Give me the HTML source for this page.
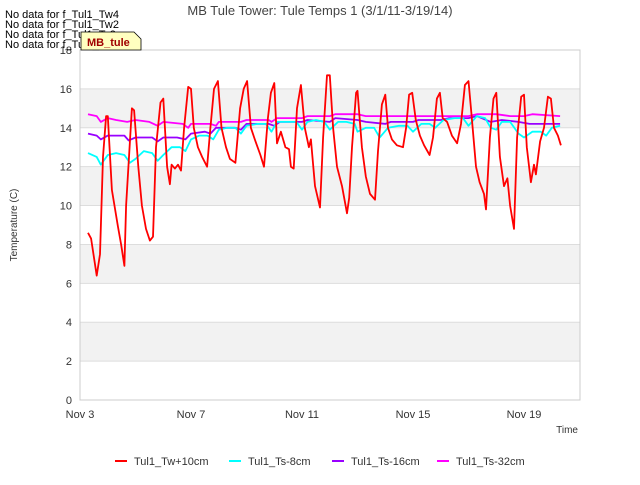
<!DOCTYPE html>
<html><head><meta charset="utf-8"><style>
body{margin:0;background:#fff;font-family:"Liberation Sans","DejaVu Sans",sans-serif;}
</style></head><body>
<svg id="c" width="640" height="480" xmlns="http://www.w3.org/2000/svg" font-family="Liberation Sans, DejaVu Sans, sans-serif">
<rect x="0" y="0" width="640" height="480" fill="#fff"/>
<g id="bands"></g>
<g id="grid"></g>
<rect x="80" y="50" width="500" height="350" fill="none" stroke="#ccc"/>
<g id="yt" font-size="11" fill="#333" text-anchor="end"></g>
<g id="xt" font-size="11" fill="#333" text-anchor="middle"></g>
<g id="series"></g>
<text x="320" y="15" font-size="13" fill="#444" text-anchor="middle">MB Tule Tower: Tule Temps 1 (3/1/11-3/19/14)</text>
<text x="17" y="225" font-size="10" fill="#333" text-anchor="middle" transform="rotate(-90 17 225)">Temperature (C)</text>
<text x="578" y="433" font-size="10" fill="#333" text-anchor="end">Time</text>
<g font-size="11" fill="#000">
<text x="5" y="18">No data for f_Tul1_Tw4</text>
<text x="5" y="28">No data for f_Tul1_Tw2</text>
<text x="5" y="38">No data for f_Tul1_Ts2</text>
<text x="5" y="48">No data for f_Tul1_Ts4</text>
</g>
<g>
<path d="M81 32 H134 L141 39 V50 H81 Z" fill="#ffffc0" stroke="#000" stroke-width="0.8"/>
<text x="87" y="46" font-size="11" font-weight="bold" fill="#a00000">MB_tule</text>
</g>
<g id="legend" font-size="11" fill="#333"></g>
</svg>
<script>
const xLabels=["Nov 3","Nov 7","Nov 11","Nov 15","Nov 19"];
const xLabelDays=[0,4,8,12,16];
const yTicks=[0,2,4,6,8,10,12,14,16,18];
const seriesNames=["Tul1_Tw+10cm","Tul1_Ts-8cm","Tul1_Ts-16cm","Tul1_Ts-32cm"];
const seriesColors=["#ff0000","#00ffff","#9900ff","#ff00ff"];
const twDays=[0.29,0.4,0.6,0.72,0.83,0.94,1.0,1.15,1.37,1.48,1.6,1.66,1.87,1.95,2.1,2.23,2.38,2.52,2.63,2.74,2.9,3.0,3.14,3.24,3.3,3.42,3.53,3.64,3.75,3.9,4.0,4.1,4.25,4.4,4.58,4.7,4.83,4.97,5.1,5.26,5.4,5.6,5.77,5.9,6.02,6.16,6.3,6.5,6.63,6.77,6.88,7.0,7.1,7.24,7.4,7.53,7.6,7.7,7.82,7.96,8.1,8.25,8.32,8.47,8.65,8.76,8.9,9.0,9.12,9.26,9.44,9.62,9.7,9.8,9.95,10.0,10.16,10.3,10.45,10.63,10.74,10.88,11.0,11.1,11.24,11.42,11.64,11.75,11.86,11.97,12.1,12.25,12.4,12.6,12.72,12.86,12.97,13.07,13.23,13.4,13.59,13.73,13.87,14.0,14.1,14.27,14.4,14.56,14.63,14.77,14.9,15.0,15.13,15.28,15.4,15.5,15.64,15.75,15.9,16.0,16.1,16.25,16.36,16.43,16.58,16.72,16.86,16.97,17.08,17.22,17.33];
const twVals=[8.6,8.3,6.4,7.5,12.5,14.6,14.6,10.8,8.9,8.0,6.9,10,15,14.9,12,10,8.8,8.2,8.4,13,15.3,15.5,12,11.1,12.1,11.9,12.1,11.8,14,16.1,16,14,13,12.5,12,14,16,16.4,14,13,12.4,12.2,15,16,16.4,14,13.4,12.6,12.0,14.5,15.8,16.3,13.2,13.8,13,12.9,12,11.9,15,16.2,14,13,13.4,11,9.9,13.5,16.7,16.7,14,12,11,9.6,10.4,13,15.8,15.9,13,11.5,10.6,10.3,12.8,15.2,15.7,14,13.4,13.1,13,14,15.7,15.8,14.4,13.6,13.1,12.6,13.5,15.5,15.8,14.5,14.3,13.6,13.2,14.2,16.2,16.4,14.8,12,11.2,10.6,9.8,13.5,15.5,15.8,12.5,11,11.4,10,8.8,13.5,15.6,15.7,13,11.2,12.1,11.6,13.3,14,15.6,15.5,14,13.6,13.1];
const ts8Days=[0.29,0.6,0.75,1.0,1.3,1.6,1.8,2.0,2.3,2.6,2.8,3.0,3.3,3.6,3.8,4.0,4.3,4.6,4.8,5.0,5.3,5.6,5.8,6.0,6.4,6.7,6.9,7.1,7.5,7.8,8.0,8.2,8.5,8.8,9.0,9.3,9.6,9.9,10.0,10.3,10.6,10.8,11.1,11.5,11.8,12.0,12.3,12.6,12.8,13.1,13.5,13.8,14.0,14.3,14.6,14.8,15.0,15.2,15.5,15.8,16.0,16.3,16.6,16.8,17.0,17.3];
const ts8Vals=[12.7,12.5,12.1,12.6,12.7,12.6,12.2,12.4,12.8,12.7,12.3,12.6,13.0,13.0,12.8,13.4,13.6,13.6,13.4,13.9,14.0,14.0,13.7,14.1,14.2,14.2,13.8,14.3,14.3,14.3,13.9,14.3,14.4,14.3,13.9,14.3,14.3,14.2,13.8,14.0,14.0,13.5,14.0,14.1,14.1,13.8,14.2,14.2,14.0,14.4,14.5,14.5,14.1,14.6,14.5,14.0,13.9,14.3,14.3,13.7,13.5,13.8,13.8,13.6,14.0,14.1];
const ts16Days=[0.29,0.6,0.75,1.0,1.6,1.75,2.0,2.6,2.8,3.0,3.5,3.8,4.0,4.5,4.7,4.9,5.6,5.8,6.0,6.8,7.0,7.2,8.0,8.2,9.0,9.2,10.0,10.3,11.0,11.2,12.0,12.2,13.0,13.3,14.0,14.3,14.8,15.2,15.8,16.2,16.8,17.3];
const ts16Vals=[13.7,13.6,13.4,13.6,13.6,13.35,13.5,13.5,13.3,13.5,13.5,13.4,13.7,13.8,13.7,14.0,14.0,13.9,14.2,14.2,14.1,14.3,14.3,14.4,14.3,14.5,14.4,14.3,14.2,14.3,14.3,14.4,14.4,14.5,14.5,14.6,14.3,14.4,14.3,14.2,14.2,14.2];
const ts32Days=[0.29,0.6,0.75,1.0,1.3,1.7,2.0,2.5,2.8,3.0,3.7,3.9,4.0,4.7,4.9,5.0,5.8,6.0,6.8,6.9,7.1,8.0,8.2,9.0,9.2,10.0,10.3,11.0,12.0,13.0,14.0,14.3,15.0,15.5,16.0,16.3,17.3];
const ts32Vals=[14.7,14.6,14.3,14.5,14.4,14.3,14.4,14.3,14.1,14.3,14.2,14.0,14.2,14.2,14.1,14.3,14.3,14.4,14.4,14.3,14.5,14.5,14.6,14.6,14.7,14.7,14.6,14.6,14.6,14.6,14.6,14.7,14.7,14.6,14.6,14.7,14.6];

const NS="http://www.w3.org/2000/svg";
const X0=80,PX_DAY=27.75,Y0=400,PX_UNIT=350/18;
function xs(d){return X0+d*PX_DAY;}
function ys(v){return Y0-v*PX_UNIT;}
function mk(t,a,p){const e=document.createElementNS(NS,t);for(const k in a)e.setAttribute(k,a[k]);p.appendChild(e);return e;}
const bands=document.getElementById('bands'),grid=document.getElementById('grid');
for(let i=0;i<yTicks.length-1;i++){
  if(i%2===1){const r=mk('rect',{x:80,y:ys(yTicks[i+1]),width:500,height:ys(yTicks[i])-ys(yTicks[i+1]),fill:'#f2f2f2'},bands);
  
  }
}
const yt=document.getElementById('yt');
yTicks.forEach(v=>{
  const l=mk('line',{x1:80,x2:580,y1:ys(v),y2:ys(v),stroke:'#ddd'},grid);
  
  
  const t=mk('text',{x:72,y:ys(v)+4},yt);t.textContent=v;
  
  
});
const xt=document.getElementById('xt');
xLabels.forEach((s,i)=>{
  const t=mk('text',{x:xs(xLabelDays[i]),y:418},xt);t.textContent=s;
  
  
});
const sg=document.getElementById('series');
const all=[[twDays,twVals],[ts8Days,ts8Vals],[ts16Days,ts16Vals],[ts32Days,ts32Vals]];
[3,2,1,0].forEach(i=>{
  const [d,v]=all[i];
  const p=mk('polyline',{points:d.map((x,j)=>xs(x).toFixed(1)+','+ys(v[j]).toFixed(1)).join(' '),fill:'none',stroke:seriesColors[i],'stroke-width':1.8,'stroke-linejoin':'round'},sg);
  
  
});
const lg=document.getElementById('legend');
const lx=[115,229,332,437];
seriesNames.forEach((n,i)=>{
  const g=mk('g',{},lg);
  
  
  mk('line',{x1:lx[i],x2:lx[i]+12,y1:461,y2:461,stroke:seriesColors[i],'stroke-width':2},g);
  const t=mk('text',{x:lx[i]+19,y:465},g);t.textContent=n;
});
</script>
</body></html>
